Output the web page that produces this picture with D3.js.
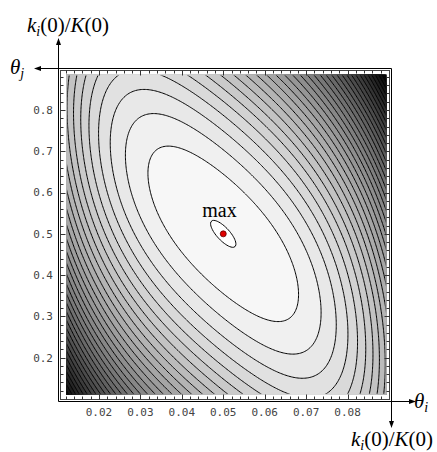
<!DOCTYPE html>
<html>
<head>
<meta charset="utf-8">
<script src="https://cdn.jsdelivr.net/npm/d3@7"></script>
<style>
  body { margin: 0; background: #fff; }
  svg { display: block; }
</style>
</head>
<body>
<div id="chart"></div>
<script>
// tick labels
var xTicks = [0.02, 0.03, 0.04, 0.05, 0.06, 0.07, 0.08];
var yTicks = [0.2, 0.3, 0.4, 0.5, 0.6, 0.7, 0.8];
// region of the surface that is drawn
var xRange = [0.0121, 0.0894];
var yRange = [0.11, 0.886];
// the maximum and the half widths used to normalise each axis
var peak = [0.05, 0.5];
var halfSpan = [0.04, 0.4];
// surface coefficients: [uu, vv, uv, uuuu]
var coef = [8.8, 7.8, 6.3, 6];
// contour levels, counted down from the maximum
var levelOffset = 0.022;
var levelCount = 35;
var minLevel = -34;

var width = 437, height = 452;

var svg = d3.select("#chart")
  .append("svg")
  .attr("width", width)
  .attr("height", height);

// scales
var x = d3.scaleLinear().domain([0.01, 0.09]).range([57.5, 389]);
var y = d3.scaleLinear().domain([0.1, 0.9]).range([399, 68.7]);

var px0 = x(xRange[0]), px1 = x(xRange[1]);
var py0 = y(yRange[1]), py1 = y(yRange[0]);

// surface values on a grid, top row first
var nx = 240, ny = 240;
var values = new Array(nx * ny);
for (var j = 0; j < ny; j++) {
  var yv = yRange[1] - j * (yRange[1] - yRange[0]) / (ny - 1);
  var v = (yv - peak[1]) / halfSpan[1];
  for (var i = 0; i < nx; i++) {
    var xv = xRange[0] + i * (xRange[1] - xRange[0]) / (nx - 1);
    var u = (xv - peak[0]) / halfSpan[0];
    values[j * nx + i] = -(coef[0] * u * u + coef[1] * v * v + 2 * coef[2] * u * v + coef[3] * u * u * u * u);
  }
}

var levels = d3.range(levelCount).map(function (k) { return -(k + levelOffset); }).reverse();

var contours = d3.contours()
  .size([nx, ny])
  .thresholds(levels)(values);

var gx = d3.scaleLinear().domain([0.5, nx - 0.5]).range([px0, px1]);
var gy = d3.scaleLinear().domain([0.5, ny - 0.5]).range([py0, py1]);

var path = d3.geoPath(d3.geoTransform({
  point: function (a, b) { this.stream.point(gx(a), gy(b)); }
}));

var shade = d3.scaleLinear().domain([minLevel, 0]).range([0, 255]).clamp(true);

var defs = svg.append("defs");
defs.append("clipPath").attr("id", "clipFill")
  .append("rect")
  .attr("x", px0).attr("y", py0)
  .attr("width", px1 - px0).attr("height", py1 - py0);
defs.append("clipPath").attr("id", "clipLine")
  .append("rect")
  .attr("x", px0 + 1).attr("y", py0 + 1)
  .attr("width", px1 - px0 - 2).attr("height", py1 - py0 - 2);

// background below the lowest level
svg.append("rect")
  .attr("x", px0).attr("y", py0)
  .attr("width", px1 - px0).attr("height", py1 - py0)
  .attr("fill", "#000");

svg.append("g")
  .attr("clip-path", "url(#clipFill)")
  .selectAll("path")
  .data(contours)
  .enter()
  .append("path")
  .attr("d", path)
  .attr("fill", function (d) {
    var g = Math.round(shade(d.value));
    return d3.rgb(g, g, g);
  })
  .attr("stroke", "none");

svg.append("g")
  .attr("clip-path", "url(#clipLine)")
  .selectAll("path")
  .data(contours)
  .enter()
  .append("path")
  .attr("d", path)
  .attr("fill", "none")
  .attr("stroke", "#000")
  .attr("stroke-width", 1);

// frame (inner) and axes (outer)
var fL = 60.5, fR = 389.5, fT = 70.5, fB = 399.5;
var aL = 58.5, aR = 391.5, aT = 68.5, aB = 401.5;

svg.append("rect")
  .attr("x", fL).attr("y", fT)
  .attr("width", fR - fL).attr("height", fB - fT)
  .attr("fill", "none")
  .attr("stroke", "#444")
  .attr("stroke-width", 1);

// ticks
var xMinor = d3.range(6, 46).map(function (k) { return k * 0.002; })
  .filter(function (d) { return x(d) > fL + 1 && x(d) < fR - 1; });
var yMinor = d3.range(5, 45).map(function (k) { return k * 0.02; })
  .filter(function (d) { return y(d) > fT + 1 && y(d) < fB - 1; });

function isMajor(d, list) {
  return list.some(function (t) { return Math.abs(t - d) < 1e-9; });
}

var ticks = svg.append("g").attr("stroke", "#333").attr("stroke-width", 1);
xMinor.forEach(function (d) {
  var len = isMajor(d, xTicks) ? 5 : 3;
  var px = Math.round(x(d)) + 0.5;
  ticks.append("line").attr("x1", px).attr("x2", px).attr("y1", fB).attr("y2", fB - len);
  ticks.append("line").attr("x1", px).attr("x2", px).attr("y1", fT).attr("y2", fT + len);
});
yMinor.forEach(function (d) {
  var len = isMajor(d, yTicks) ? 5 : 3;
  var py = Math.round(y(d)) + 0.5;
  ticks.append("line").attr("y1", py).attr("y2", py).attr("x1", fL).attr("x2", fL + len);
  ticks.append("line").attr("y1", py).attr("y2", py).attr("x1", fR).attr("x2", fR - len);
});

// tick labels
svg.append("g")
  .selectAll("text")
  .data(xTicks)
  .enter()
  .append("text")
  .attr("x", function (d) { return x(d); })
  .attr("y", 416)
  .attr("text-anchor", "middle")
  .style("font-family", "DejaVu Sans Mono, monospace")
  .style("font-size", "11px")
  .style("fill", "#444")
  .text(function (d) { return d3.format(".2f")(d); });

svg.append("g")
  .selectAll("text")
  .data(yTicks)
  .enter()
  .append("text")
  .attr("x", 53)
  .attr("y", function (d) { return y(d); })
  .attr("dy", "0.35em")
  .attr("text-anchor", "end")
  .style("font-family", "DejaVu Sans Mono, monospace")
  .style("font-size", "11px")
  .style("fill", "#444")
  .text(function (d) { return d3.format(".1f")(d); });

// axes with arrows
var axes = svg.append("g").attr("stroke", "#000").attr("stroke-width", 1);
axes.append("line").attr("x1", aL).attr("x2", aL).attr("y1", aB).attr("y2", 42);
axes.append("line").attr("x1", aR).attr("y1", aT).attr("x2", 38).attr("y2", aT);
axes.append("line").attr("x1", aL).attr("y1", aB).attr("x2", 412).attr("y2", aB);
axes.append("line").attr("x1", aR).attr("y1", aT).attr("x2", aR).attr("y2", 424);

function arrow(tx, ty, dir) {
  var pts;
  if (dir === "up") pts = [[tx, ty], [tx - 2.5, ty + 7], [tx + 2.5, ty + 7]];
  if (dir === "down") pts = [[tx, ty], [tx - 2.5, ty - 7], [tx + 2.5, ty - 7]];
  if (dir === "left") pts = [[tx, ty], [tx + 7, ty - 2.5], [tx + 7, ty + 2.5]];
  if (dir === "right") pts = [[tx, ty], [tx - 7, ty - 2.5], [tx - 7, ty + 2.5]];
  svg.append("path").attr("d", d3.line()(pts) + "Z").attr("fill", "#000");
}
arrow(aL, 38, "up");
arrow(34, aT, "left");
arrow(416, aB, "right");
arrow(aR, 428, "down");

// axis labels
function ratioLabel(tx, ty) {
  var t = svg.append("text")
    .attr("x", tx).attr("y", ty)
    .style("font-family", "Liberation Serif, Times New Roman, serif")
    .style("font-size", "21px")
    .style("fill", "#000");
  t.append("tspan").style("font-style", "italic").text("k");
  t.append("tspan").style("font-style", "italic").style("font-size", "14px").attr("dy", 4).text("i");
  t.append("tspan").attr("dy", -4).text("(0)/");
  t.append("tspan").style("font-style", "italic").text("K");
  t.append("tspan").text("(0)");
}
ratioLabel(27, 32);
ratioLabel(351, 446);

function thetaLabel(tx, ty, sub) {
  var t = svg.append("text")
    .attr("x", tx).attr("y", ty)
    .style("font-family", "Liberation Serif, Times New Roman, serif")
    .style("font-size", "21px")
    .style("fill", "#000");
  t.append("tspan").style("font-style", "italic").text("\u03b8");
  t.append("tspan").style("font-style", "italic").style("font-size", "14px").attr("dy", 4).text(sub);
}
thetaLabel(10, 74, "j");
thetaLabel(414, 408, "i");

// maximum
svg.append("text")
  .attr("x", x(0.0491))
  .attr("y", y(0.541))
  .attr("text-anchor", "middle")
  .style("font-family", "Liberation Serif, Times New Roman, serif")
  .style("font-size", "20px")
  .text("max");

svg.append("circle")
  .attr("cx", x(peak[0]))
  .attr("cy", y(peak[1]))
  .attr("r", 3)
  .attr("fill", "#e00000")
  .attr("stroke", "#600")
  .attr("stroke-width", 0.8);
</script>
</body>
</html>
